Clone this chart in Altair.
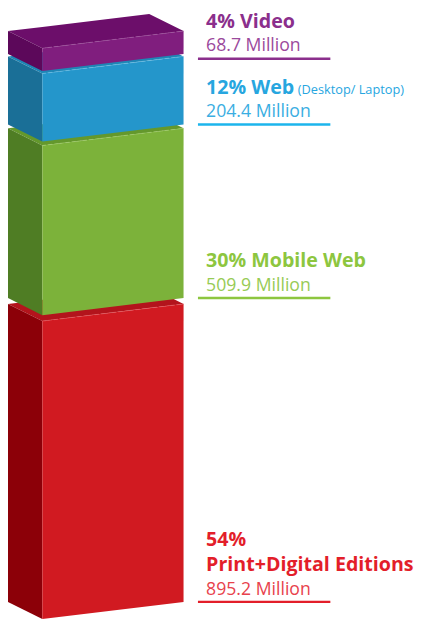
import altair as alt
import pandas as pd

# ---- data ----
categories = ["Print+Digital Editions", "Mobile Web", "Web", "Video"]
percents = [54, 30, 12, 4]
audience_millions = [895.2, 509.9, 204.4, 68.7]
notes = ["", "", "(Desktop/ Laptop)", ""]

# ---- styles ----
front_colors = ["#d11a21", "#7cb23a", "#2496cb", "#801e7e"]
left_colors = ["#8c0008", "#4f7d24", "#1a6f97", "#5c085a"]
top_colors = ["#b3141c", "#64982c", "#1e86b6", "#6c0e6a"]
edge_colors = ["#e85a60", "#a5d070", "#6cc0e8", "#a35aa1"]
title_colors = ["#e31e2a", "#8dc63f", "#27a6df", "#8b2f8c"]
value_colors = ["#e8424c", "#97cb55", "#3aaee2", "#9b4a9c"]
line_colors = ["#e31e2a", "#8dc63f", "#1cb5ec", "#8b2f8c"]
# downward nudge (px) of a whole label block so the top one stays inside the page
label_nudge = [0, 0, 0, 5]

W, H = 414, 619
PX_PER_M = 0.3394
GAPS_PX = [6, 4, 2.5]
DEPTH_PX = 17.5
X_LEFT, X_FRONT, X_RIGHT = 0, 35, 179
X_BACK = X_LEFT + (X_RIGHT - X_FRONT)
LABEL_X, LINE_X1, LINE_X2, NOTE_X = 202, 193.7, 328.7, 295.5

d = DEPTH_PX / PX_PER_M
bottoms, tops = [], []
cur = 0.0
for i, v in enumerate(audience_millions):
    bottoms.append(cur)
    tops.append(cur + v)
    cur = cur + v + (GAPS_PX[i] / PX_PER_M if i < len(GAPS_PX) else 0)

front_rows, left_rows, top_rows, edge_rows = [], [], [], []
for i, cat in enumerate(categories):
    b, t = bottoms[i], tops[i]
    front_rows += [
        dict(g=cat, x=X_FRONT, y=t, y2=b, c=front_colors[i]),
        dict(g=cat, x=X_RIGHT, y=t + d, y2=b + d, c=front_colors[i]),
    ]
    left_rows += [
        dict(g=cat, x=X_LEFT, y=t + d, y2=b + d, c=left_colors[i]),
        dict(g=cat, x=X_FRONT, y=t, y2=b, c=left_colors[i]),
    ]
    top_rows += [
        dict(g=cat, x=X_LEFT, y=t + d, y2=t + d, c=top_colors[i]),
        dict(g=cat, x=X_FRONT, y=t + d + d * (X_FRONT - X_LEFT) / (X_BACK - X_LEFT), y2=t, c=top_colors[i]),
        dict(g=cat, x=X_BACK, y=t + 2 * d, y2=t + d * (X_BACK - X_FRONT) / (X_RIGHT - X_FRONT), c=top_colors[i]),
        dict(g=cat, x=X_RIGHT, y=t + d, y2=t + d, c=top_colors[i]),
    ]
    edge_rows.append(dict(g=cat, x=X_FRONT, y=t, x2=X_RIGHT, y2=t + d, c=edge_colors[i]))

single_rows, multi_rows, lbl_rows = [], [], []
for i, cat in enumerate(categories):
    yb = bottoms[i] + d - label_nudge[i] / PX_PER_M
    common = dict(g=cat, y=yb, x=LABEL_X, tc=title_colors[i])
    if percents[i] >= 50:
        multi_rows.append(dict(common, title=[f"{percents[i]}%", cat]))
    else:
        single_rows.append(dict(common, title=f"{percents[i]}% {cat}"))
    lbl_rows.append(dict(g=cat, y=yb, note=notes[i],
                         value=f"{audience_millions[i]} Million",
                         tc=title_colors[i], vc=value_colors[i], lc=line_colors[i],
                         x=LABEL_X, nx=NOTE_X, lx1=LINE_X1, lx2=LINE_X2))

front_df = pd.DataFrame(front_rows)
left_df = pd.DataFrame(left_rows)
top_df = pd.DataFrame(top_rows)
edge_df = pd.DataFrame(edge_rows)
lbl_df = pd.DataFrame(lbl_rows)
single_df = pd.DataFrame(single_rows)
multi_df = pd.DataFrame(multi_rows)

xs = alt.Scale(domain=[0, W], nice=False, zero=False)
ys = alt.Scale(domain=[-2 / PX_PER_M, (H - 2) / PX_PER_M], nice=False, zero=False)
X = lambda f: alt.X(f"{f}:Q", scale=xs, axis=None)
Y = lambda f: alt.Y(f"{f}:Q", scale=ys, axis=None)


def faces(df):
    return alt.Chart(df).mark_area(orient="vertical", strokeWidth=0).encode(
        x=X("x"), y=Y("y"), y2="y2", detail="g:N",
        color=alt.Color("c:N", scale=None),
    )


edges = alt.Chart(edge_df).mark_rule(strokeWidth=1, opacity=0.6, strokeDash=[4, 2]).encode(
    x=X("x"), y=Y("y"), x2="x2", y2="y2", color=alt.Color("c:N", scale=None)
)

underline = alt.Chart(lbl_df).mark_rule(strokeWidth=2.5).encode(
    x=X("lx1"), x2="lx2", y=Y("y"), color=alt.Color("lc:N", scale=None)
)

FONT = "Open Sans"
TITLE_SIZE = 20
values_txt = alt.Chart(lbl_df).mark_text(align="left", baseline="alphabetic", font=FONT,
                                         fontSize=18, dy=-7.5).encode(
    x=X("x"), y=Y("y"), text="value:N", color=alt.Color("vc:N", scale=None))
main_txt = alt.Chart(single_df).mark_text(align="left", baseline="alphabetic", font=FONT,
                                          fontSize=TITLE_SIZE, fontWeight="bold", dy=-31.5).encode(
    x=X("x"), y=Y("y"), text="title", color=alt.Color("tc:N", scale=None))
multi_txt = alt.Chart(multi_df).mark_text(align="left", baseline="alphabetic", font=FONT,
                                          fontSize=TITLE_SIZE, fontWeight="bold", dy=-57.5,
                                          lineHeight=26).encode(
    x=X("x"), y=Y("y"), text="title", color=alt.Color("tc:N", scale=None))
note_txt = alt.Chart(lbl_df).mark_text(align="left", baseline="alphabetic", font=FONT,
                                       fontSize=13, dy=-31.5).encode(
    x=X("nx"), y=Y("y"), text="note:N", color=alt.Color("tc:N", scale=None))

chart = alt.layer(
    faces(top_df), faces(left_df), faces(front_df), edges,
    underline, main_txt, multi_txt, note_txt, values_txt,
).properties(width=W, height=H, padding=0, autosize="none").configure_view(stroke=None)

chart.save("out.html", embed_options={"renderer": "svg", "actions": False})
